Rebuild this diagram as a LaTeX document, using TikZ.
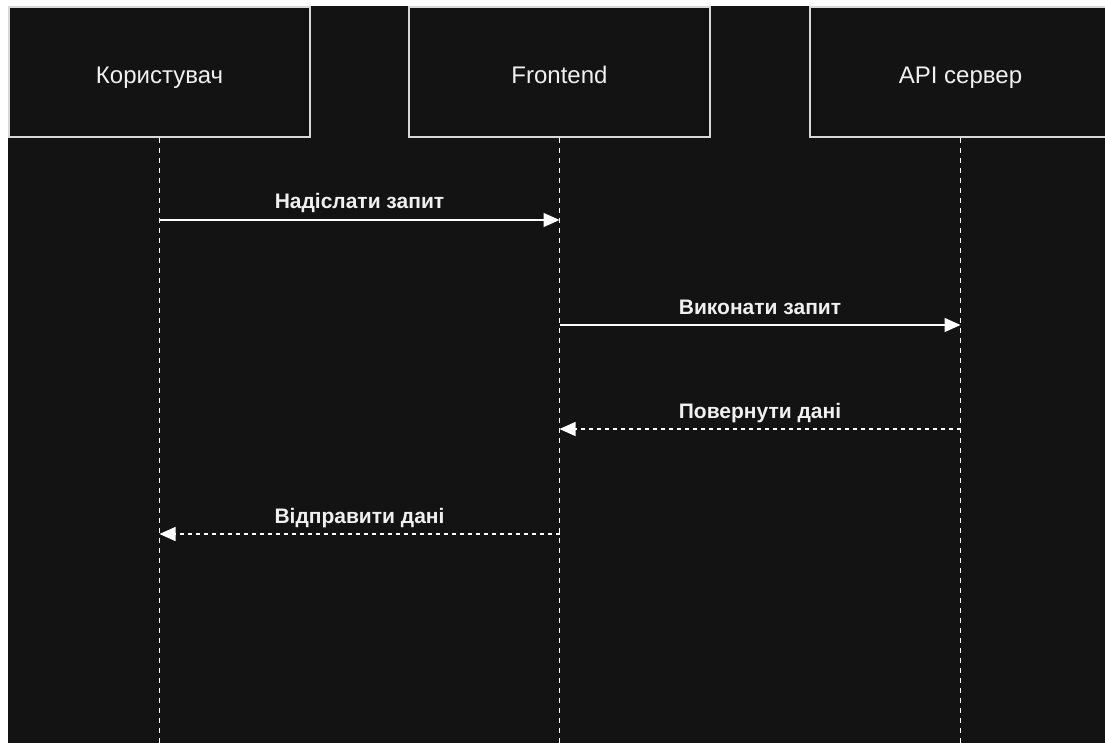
\documentclass[tikz,border=0pt]{standalone}
\usepackage{fontspec}
\setmainfont{Liberation Sans}
\usetikzlibrary{arrows.meta}
\definecolor{bgdark}{HTML}{131313}
\definecolor{edge}{HTML}{D8D8D8}
\definecolor{txt}{HTML}{F0F0F0}
\tikzset{
  actor/.style={draw=edge, line width=1.2pt, fill=bgdark, minimum width=301pt, minimum height=130pt, inner sep=0pt, text=txt, font=\fontsize{24}{28}\selectfont},
  atext/.style={text=txt, font=\fontsize{24}{28}\selectfont, inner sep=0pt, anchor=base},
  lifeline/.style={draw=white, line width=1.2pt, dash pattern=on 5pt off 5pt},
  msg/.style={draw=white, line width=1.3pt, -{Triangle[length=16pt,width=14pt]}},
  reply/.style={msg, dash pattern=on 4pt off 4pt},
  mlabel/.style={text=txt, font=\bfseries\fontsize{21}{25}\selectfont, inner sep=0pt, anchor=base}
}
\begin{document}
\begin{tikzpicture}[x=1pt,y=-1pt]
\useasboundingbox (0,0) rectangle (1105,743);
\fill[white] (0,0) rectangle (1105,743);
\fill[bgdark] (8,6) rectangle (1105,743);
\node[actor] (u) at (159.5,72) {};
\node[actor] (f) at (559.5,72) {};
\node[actor] (a) at (960.5,72) {};
\node[atext] (ut) at (159.5,84) {Користувач};
\node[atext] (ft) at (559.5,84) {Frontend};
\node[atext] (at) at (960.5,84) {API сервер};
\coordinate (ue) at (159.5,743);
\coordinate (fe) at (559.5,743);
\coordinate (ae) at (960.5,743);
\draw[lifeline] (u.south) -- (ue);
\draw[lifeline] (f.south) -- (fe);
\draw[lifeline] (a.south) -- (ae);
\coordinate (u1) at (159.5,220);
\coordinate (f1) at (559.5,220);
\coordinate (f2) at (559.5,325);
\coordinate (a2) at (960.5,325);
\coordinate (a3) at (960.5,429);
\coordinate (f3) at (559.5,429);
\coordinate (f4) at (559.5,534);
\coordinate (u4) at (159.5,534);
\draw[msg] (u1) -- (f1);
\draw[msg] (f2) -- (a2);
\draw[reply] (a3) -- (f3);
\draw[reply] (f4) -- (u4);
\node[mlabel] (l1) at (359.5,209) {Надіслати запит};
\node[mlabel] (l2) at (760,314) {Виконати запит};
\node[mlabel] (l3) at (760,418) {Повернути дані};
\node[mlabel] (l4) at (359.5,523) {Відправити дані};
\end{tikzpicture}
\end{document}
